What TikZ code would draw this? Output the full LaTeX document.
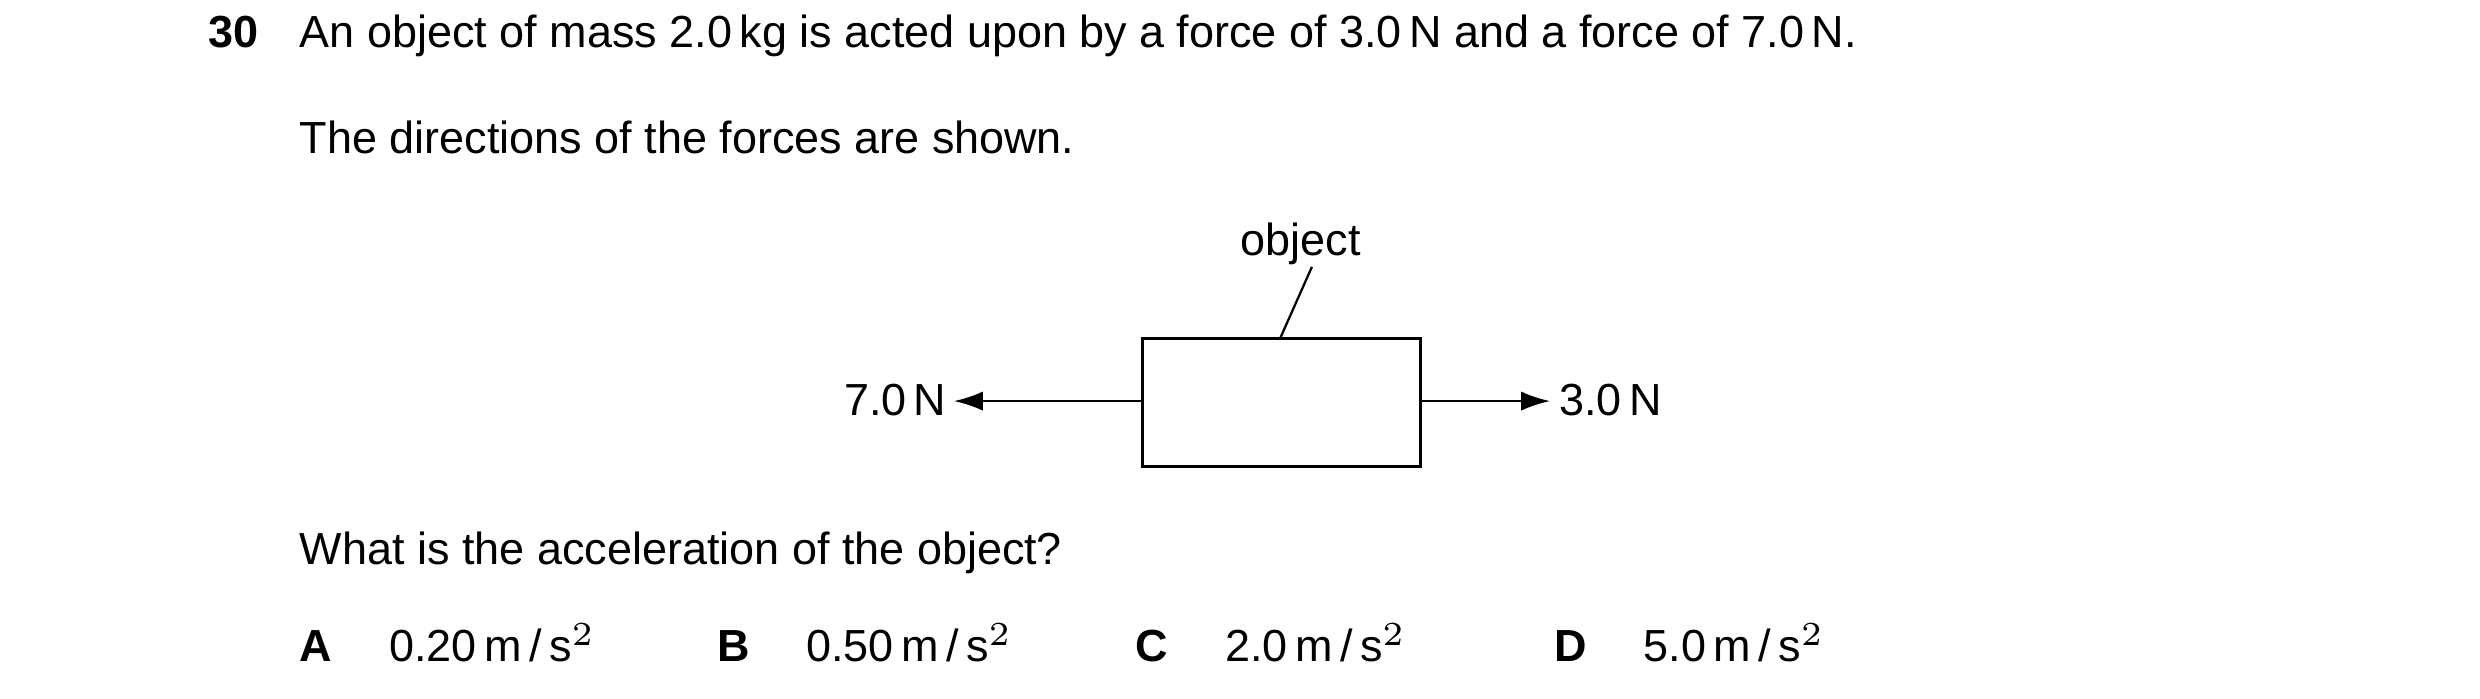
\documentclass[tikz,border=0pt]{standalone}
\usepackage{fontspec}
\setmainfont{Liberation Sans}
\usetikzlibrary{arrows.meta}

\begin{document}
\begin{tikzpicture}[x=0.01cm, y=-0.01cm,
    txt/.style={anchor=base west, inner sep=0pt, font=\fontsize{8}{10}\selectfont},
    force/.style={-{Latex[length=0.18cm, width=0.12cm]}}]
    \useasboundingbox (0,0) rectangle (1552,437);

    \node[txt, font=\fontsize{8}{10}\selectfont\bfseries] (num) at (130,30) {30};
    \node[txt] (line1) at (187,30) {An object of mass 2.0\,kg is acted upon by a force of 3.0\,N and a force of 7.0\,N.};
    \node[txt] (line2) at (187,96) {The directions of the forces are shown.};

    \draw[semithick] (715,212) rectangle (889,292);
    \coordinate (boxL) at (715,251);
    \coordinate (boxR) at (889,251);
    \coordinate (boxT) at (801,212);
    \coordinate (tipL) at (597,251);
    \coordinate (tipR) at (970,251);
    \draw[force] (boxL) -- (tipL);
    \draw[force] (boxR) -- (tipR);
    \node[txt, anchor=base east] (lblL) at (593,260) {7.0\,N};
    \node[txt] (lblR) at (975,260) {3.0\,N};

    \node[txt, anchor=base] (objlbl) at (814,160) {object};
    \draw (821,167) -- (boxT);

    \node[txt] (question) at (187,353) {What is the acceleration of the object?};

    \foreach \letter/\xpos/\val in {A/187/0.20, B/448/0.50, C/710/2.0, D/972/5.0}{
        \node[txt, font=\fontsize{8}{10}\selectfont\bfseries] at (\xpos,414) {\letter};
        \node[txt] at (\xpos+56,414) {\val\,m\,/\,s$^{2}$};
    }
\end{tikzpicture}
\end{document}
